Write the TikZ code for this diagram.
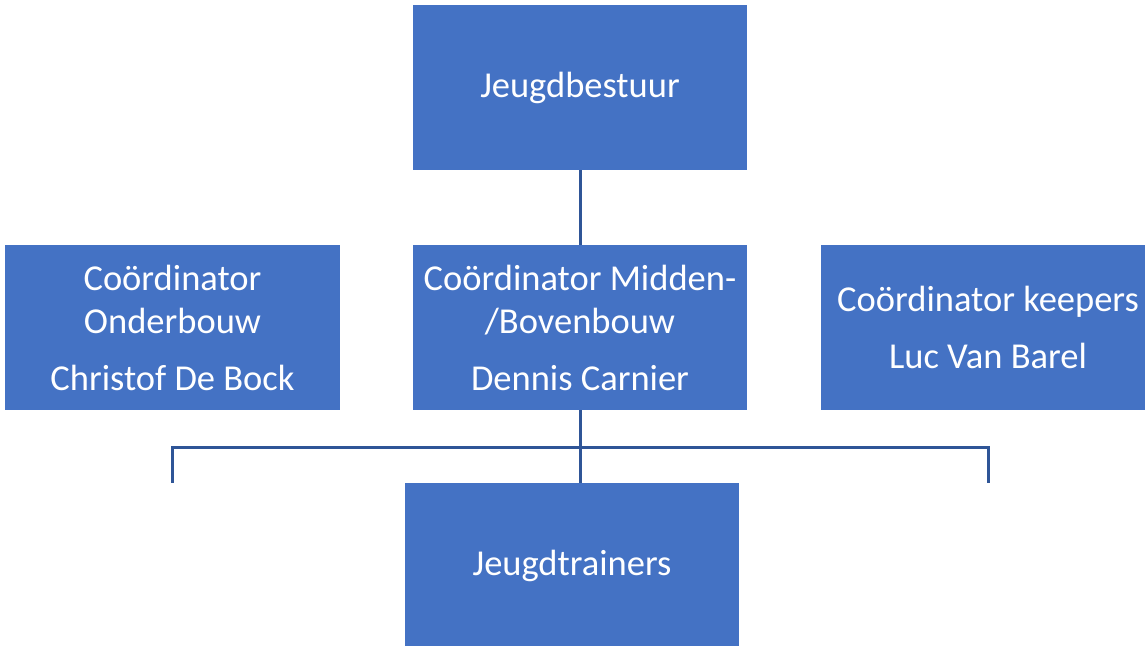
\documentclass[tikz,border=0pt]{standalone}
\usepackage{fontspec}
\setmainfont{Carlito}
\definecolor{boxfill}{HTML}{4472C4}
\definecolor{linkcol}{HTML}{2F5597}
\begin{document}
\begin{tikzpicture}[x=1pt,y=-1pt,
  orgbox/.style={fill=boxfill,text=white,inner sep=0pt,minimum width=334pt,minimum height=165pt,
    align=center,font=\fontsize{36.5}{43}\selectfont},
  link/.style={draw=linkcol,line width=3pt}]
\useasboundingbox (0,0) rectangle (1145,645);
\fill[white] (0,0) rectangle (1145,645);
  % Nodes
  \node[orgbox] (bestuur) at (580,87.5) {Jeugdbestuur};
  \node[orgbox,minimum width=335pt] (onder) at (172.5,327.5) {Coördinator\\Onderbouw\\[14pt]Christof De Bock};
  \node[orgbox] (midden) at (580,327.5) {Coördinator Midden-\\/Bovenbouw\\[14pt]Dennis Carnier};
  \node[orgbox] (keepers) at (988,327.5) {Coördinator keepers\\[14pt]Luc Van Barel};
  \node[orgbox] (trainers) at (572,565.5) {Jeugdtrainers};
  \coordinate (bar) at (580,447);
  % Edges
  \draw[link] (bestuur.south) -- (midden.north);
  \draw[link] (midden.south) -- (midden.south |- trainers.north);
  \draw[link] (onder.south |- trainers.north) -- (onder.south |- bar) -- (keepers.south |- bar) -- (keepers.south |- trainers.north);
\end{tikzpicture}
\end{document}
